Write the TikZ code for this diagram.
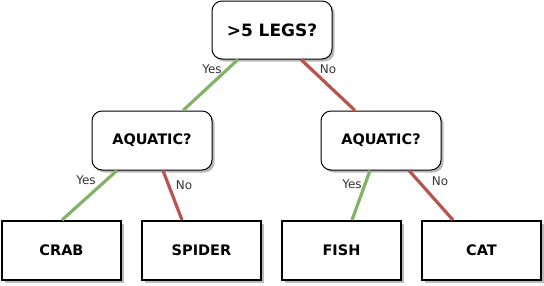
\documentclass[tikz,border=0pt]{standalone}
\usepackage{fontspec}
\setmainfont{DejaVu Sans}
\usetikzlibrary{calc,shadows}
\definecolor{yesgreen}{HTML}{82B366}
\definecolor{nored}{HTML}{B85450}
\tikzset{
  box/.style={draw=black, fill=white, line width=1pt, align=center,
    font=\bfseries\fontsize{14.5}{17}\selectfont,
    drop shadow={shadow xshift=2.5pt, shadow yshift=-2.5pt, fill=black!45, opacity=0.6}},
  question/.style={box, rounded corners=10pt, minimum width=120pt, minimum height=59pt},
  leaf/.style={box, line width=2pt, minimum width=119pt, minimum height=59pt},
  yesline/.style={draw=yesgreen, line width=3.2pt},
  noline/.style={draw=nored, line width=3.2pt},
  edgelabel/.style={font=\fontsize{12}{14}\selectfont, text=black!80, inner sep=0pt}
}
\begin{document}
\begin{tikzpicture}[x=1pt, y=-1pt]
  \useasboundingbox (0,0) rectangle (544,285);
  % decision nodes
  \node[question, font=\bfseries\fontsize{17}{20}\selectfont, minimum height=58pt] (root) at (272,30) {>5 LEGS?};
  \node[question] (aqL) at (152,140.5) {AQUATIC?};
  \node[question] (aqR) at (381,140.5) {AQUATIC?};
  % outcomes
  \node[leaf] (crab) at (61.5,250.5) {CRAB};
  \node[leaf] (spider) at (201.5,250.5) {SPIDER};
  \node[leaf] (fish) at (341.5,250.5) {FISH};
  \node[leaf] (cat) at (481.5,250.5) {CAT};
  % branches: green for yes, red for no
  \draw[yesline] ([xshift=-34pt]root.south) -- ([xshift=31pt]aqL.north);
  \draw[noline] ([xshift=29pt]root.south) -- ([xshift=-26pt]aqR.north);
  \draw[yesline] ([xshift=-35pt]aqL.south) -- ([xshift=0.5pt]crab.north);
  \draw[noline] ([xshift=11pt]aqL.south) -- ([xshift=-19.5pt]spider.north);
  \draw[yesline] ([xshift=-11pt]aqR.south) -- ([xshift=10.5pt]fish.north);
  \draw[noline] ([xshift=28pt]aqR.south) -- ([xshift=-28.5pt]cat.north);
  % branch labels
  \node[edgelabel] (l1) at (212,69.5) {Yes};
  \node[edgelabel] (l2) at (328,69.5) {No};
  \node[edgelabel] (l3) at (86,180) {Yes};
  \node[edgelabel] (l4) at (184,185) {No};
  \node[edgelabel] (l5) at (352,184.5) {Yes};
  \node[edgelabel] (l6) at (440,181) {No};
\end{tikzpicture}
\end{document}
